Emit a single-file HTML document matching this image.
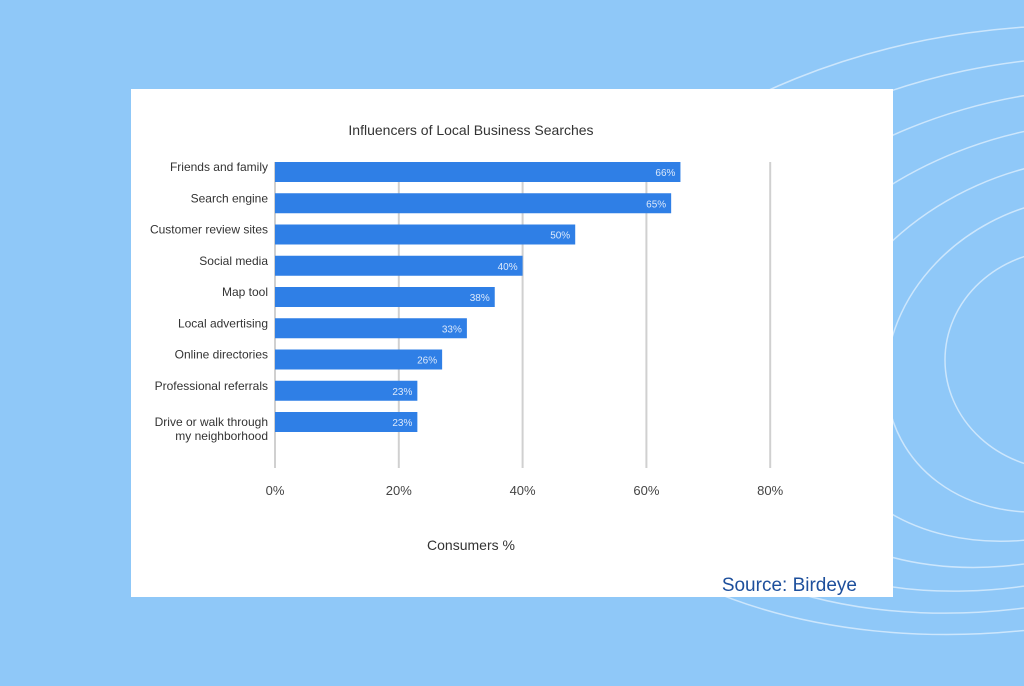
<!DOCTYPE html>
<html><head><meta charset="utf-8"><style>
html,body{margin:0;padding:0}
body{width:1024px;height:686px;background:#8fc8f8;position:relative;overflow:hidden;font-family:"Liberation Sans",sans-serif}
</style></head><body>
<svg width="1024" height="686" style="position:absolute;left:0;top:0">
<g fill="none" stroke="#ffffff" stroke-opacity="0.55" stroke-width="1.5">
<ellipse cx="1010" cy="330" rx="480" ry="300" transform="rotate(-8 1010 330)"/>
<ellipse cx="1020" cy="335" rx="420" ry="270" transform="rotate(-12 1020 335)"/>
<ellipse cx="1030" cy="340" rx="360" ry="240" transform="rotate(-16 1030 340)"/>
<ellipse cx="1040" cy="345" rx="300" ry="210" transform="rotate(-20 1040 345)"/>
<ellipse cx="1050" cy="350" rx="240" ry="180" transform="rotate(-24 1050 350)"/>
<ellipse cx="1060" cy="355" rx="180" ry="150" transform="rotate(-28 1060 355)"/>
<ellipse cx="1065" cy="360" rx="120" ry="110"/>
</g></svg>
<div style="position:absolute;left:131px;top:89px;width:762px;height:508px;background:#fff"></div>
<svg id="chart" width="1024" height="686" style="position:absolute;left:0;top:0"></svg>
<script>
const categories=["Friends and family","Search engine","Customer review sites","Social media","Map tool","Local advertising","Online directories","Professional referrals","Drive or walk through|my neighborhood"];
const values=[65.5,64,48.5,40,35.5,31,27,23,23];
const valueLabels=["66%","65%","50%","40%","38%","33%","26%","23%","23%"];
const ticks=[0,20,40,60,80];
const tickLabels=["0%","20%","40%","60%","80%"];
const NS="http://www.w3.org/2000/svg";
const svg=document.getElementById('chart');
const x=v=>275+v*6.19;
const yc=i=>172+i*31.25;
function mk(t,a,txt){const e=document.createElementNS(NS,t);for(const k in a)e.setAttribute(k,a[k]);if(txt!=null)e.textContent=txt;svg.appendChild(e);return e;}
ticks.forEach((t,i)=>{
 const g=mk('line',{x1:x(t),x2:x(t),y1:162,y2:468,stroke:'#d0d0d0','stroke-width':2});
 
 
 const l=mk('text',{x:x(t),y:495,'text-anchor':'middle','font-size':13,fill:'#444'},tickLabels[i]);
 
 
});
categories.forEach((c,i)=>{
 const b=mk('rect',{x:x(0),y:yc(i)-10,width:x(values[i])-x(0),height:20,fill:'#2f7fe6'});
 
 
 const v=mk('text',{x:x(values[i])-5,y:yc(i)+4,'text-anchor':'end','font-size':10,fill:'#dce9fb'},valueLabels[i]);
 
 
 const parts=c.split('|');
 parts.forEach((p,j)=>{
  const yy=parts.length>1?yc(i)+4+j*14:yc(i)-1;
  const t=mk('text',{x:268,y:yy,'text-anchor':'end','font-size':12,fill:'#333'},p);
  
  
 });
});
const ti=mk('text',{x:471,y:135,'text-anchor':'middle','font-size':14,fill:'#333'},'Influencers of Local Business Searches');


const xt=mk('text',{x:471,y:550,'text-anchor':'middle','font-size':14,fill:'#333'},'Consumers %');


const src=mk('text',{x:857,y:591,'text-anchor':'end','font-size':19,fill:'#1d4f9c'},'Source: Birdeye');


</script>
</body></html>
